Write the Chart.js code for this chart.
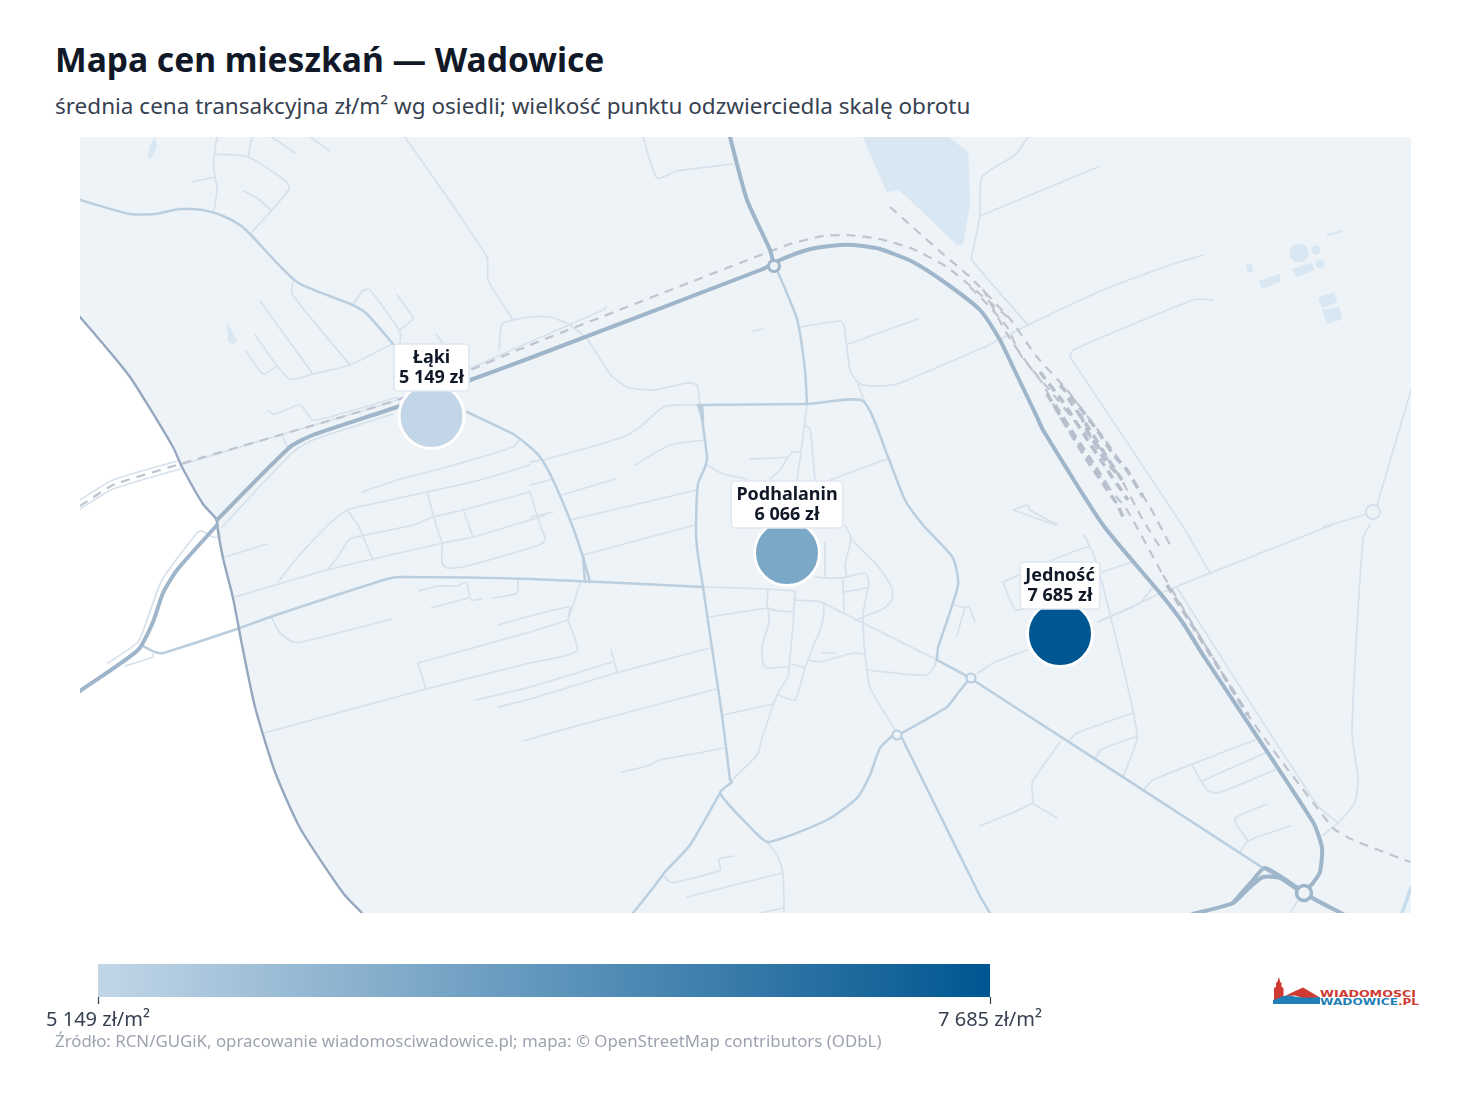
<!DOCTYPE html>
<html lang="pl"><head><meta charset="utf-8">
<script src="https://cdn.jsdelivr.net/npm/chart.js@4"></script>
<style>
html,body{margin:0;padding:0;background:#fff;width:1467px;height:1095px;overflow:hidden}
body{font-family:"Noto Sans",sans-serif;position:relative}
.t{position:absolute;white-space:nowrap;left:55px}
#title{top:37px;font-size:33.6px;line-height:44px;font-weight:700;color:#111827}
#sub{top:90px;font-size:22.5px;line-height:32px;color:#374151}
#src{top:1029px;font-size:16.85px;line-height:24px;color:#9ca3af}
canvas{position:absolute;display:block}
#map{left:80px;top:137px}
#bar{left:28px;top:955px}
#logo{position:absolute;left:1265px;top:970px}
</style></head><body>
<div class="t" id="title">Mapa cen mieszkań — Wadowice</div>
<div class="t" id="sub">średnia cena transakcyjna zł/m² wg osiedli; wielkość punktu odzwierciedla skalę obrotu</div>
<canvas id="map" width="1331" height="776"></canvas>
<canvas id="bar" width="1040" height="90"></canvas>
<div class="t" id="src">Źródło: RCN/GUGiK, opracowanie wiadomosciwadowice.pl; mapa: © OpenStreetMap contributors (ODbL)</div>
<svg id="logo" width="160" height="42" viewBox="1265 970 160 42">
<path d="M1279 977l1.2 5 1.3 1v4l2 1v11l3 3h-13.500l1-3v-11l2-1v-4l1.300-1z" fill="#cf3a33"/>
<path d="M1285 996l8-4 10-4.500 17 10-16 1-9-3z" fill="#cf3a33"/>
<path d="M1273 1000c7-2 11-6 19-4 9 2 17 2 28 1v7h-47z" fill="#1f7fb6"/>
<text x="1320" y="997" font-family="DejaVu Sans" font-weight="700" font-size="8.500" fill="#cf3a33" textLength="96" lengthAdjust="spacingAndGlyphs">WIADOMOSCI</text>
<text x="1320" y="1004.500" font-family="DejaVu Sans" font-weight="700" font-size="8.500" fill="#1f7fb6" textLength="78" lengthAdjust="spacingAndGlyphs">WADOWICE</text>
<text x="1398" y="1004.500" font-family="DejaVu Sans" font-weight="700" font-size="8.500" fill="#cf3a33" textLength="21" lengthAdjust="spacingAndGlyphs">.PL</text>
</svg>
<script>
// ---- values ----
const districts = ["Łąki", "Podhalanin", "Jedność"];
const prices = [5149, 6066, 7685];
const districtX = [431.5, 787, 1060];
const districtY = [416, 553, 634];
const priceRange = [5149, 7685];
const mapX = [80, 1411];
const mapY = [137, 913];

const landOutline = [80,137,1411,137,1411,913,362,913,343,893,300,828,275,772,255,707,242,645,233,598,223,558,217,525,217,520,203,504,182,467,173,447,130,377,93,332,80,317];
const borderLine = [80,317,93,332,130,377,173,447,182,467,203,504,217,520,217,525,223,558,233,598,242,645,255,707,275,772,300,828,343,893,362,913];
const waterAreas = [
 [863,137,887,192,898,190,905,195,957,245,963,244,970,204,968,152,948,137],
 [155,137,157,147,150,159,148,157,150,145],
 [227,322,237,341,232,344,228,341],
 [1292,269,1312,263,1314,270,1297,277],
 [1259,281,1279,274,1281,281,1262,289],
 [1246,265,1251,264,1253,271,1248,273],
 [1318,298,1334,292,1337,302,1322,308],
 [1322,310,1339,307,1342,319,1327,324]
];
const waterLines = [[1328,235,1341,231]];
const riverLines = [[1411,888,1402,913]];
const pondLarge = [1299,253];
const pondSmall = [1316,250,1320,264];

const minorRoads = [
 [217,137,214,157,214,170,217,189,214,211],[252,137,248,157],
 [214,154,248,157,287,182,289,189,272,210,250,234],[192,182,215,177],[244,191,257,198,271,210],
 [272,137,295,153],[310,137,330,151],[405,137,487,257,488,280,513,320],
 [513,320,502,324,499,350],[513,320,530,317,550,317,568,324,587,339,610,374,627,387,653,390,687,383,697,385,700,405],
 [293,282,292,294,350,365],[260,301,313,374],[255,335,289,379,313,374,350,365,392,344],[246,351,263,374,277,366],
 [353,305,363,290,370,290,400,332,400,344],[397,295,413,317,412,320,400,330],[436,334,442,342],
 [268,411,275,414,300,405,313,420,347,412,375,404,397,397],[282,435,288,448],
 [80,500,113,480,177,461],[80,509,113,489,180,469],
 [180,465,280,435,397,400,473,367,530,342,605,309,606,307],
 [222,527,293,452,313,440,393,414],
 [108,663,138,642,148,617,162,580,197,533,202,531,213,537,220,537,218,525],
 [125,666,153,657,153,654],
 [225,557,267,544],[235,597,327,570,443,543,473,537,530,520,545,515],
 [362,492,397,480,447,467,513,447,520,439],
 [278,582,297,558,328,525,347,510,367,505,427,492,480,480,530,465],
 [327,570,337,558,347,542,352,538,413,525,433,517,467,509,530,492],
 [358,525,347,510],[358,525,373,560],[427,492,436,525,442,543,442,563,447,568,463,567,530,548,543,543,545,537,540,525,530,492],
 [463,509,473,537],
 [272,618,280,633,293,642,302,642,392,619],[419,591,438,586,457,586,467,582,468,588,471,600,482,599],
 [431,608,468,598],[493,598,517,593,518,580],[498,625,530,616,567,607,570,607,568,620,580,583],
 [418,663,530,632,568,620],[418,663,426,689],[264,733,426,689,530,663,577,651,568,620],
 [476,700,530,687,612,662],[611,650,617,672],[498,707,530,699,550,693,616,673,710,648],
 [524,741,530,739,580,725,716,689],[622,772,647,766,660,760,693,754,724,748],[583,555,695,525],[723,715,773,704],
 [635,465,670,445,705,440],[530,462,547,459,623,437,640,427,663,407,680,405,700,405],
 [530,485,553,479],[562,495,615,479],[570,520,697,490],[530,517,553,512],
 [807,404,803,437,797,480],[643,137,657,178,677,171,733,164],
 [800,327,840,321,844,325,850,370,860,384,880,386,897,384,980,349,985,347,1028,325,1103,290,1170,265,1203,255],
 [848,344,918,319],[858,384,865,402],[753,331,763,329],
 [707,465,723,474,747,479],[750,459,788,457,792,452,800,452],[788,457,780,470,770,479],
 [805,425,810,429,815,480],[830,480,887,459],
 [850,538,877,565,892,588,892,600,883,609,855,620],[845,525,851,538,845,565,846,577,825,578,815,577],
 [825,542,825,577],[843,577,844,613],[846,577,865,573,868,578,868,587,845,592],
 [868,587,863,615,864,642,867,670,870,688,895,730],[768,590,768,608,793,611,795,591],[703,587,768,589,795,591],
 [709,617,760,609,768,608],
 [768,608,769,622,762,647,763,663,767,668,785,667,789,669,788,677,778,693,762,738,757,755,730,782],
 [795,591,793,625,789,668],[795,600,823,603,822,625,815,642,805,668,795,700,778,695],[792,664,805,668],
 [808,660,820,662,853,653,864,654],[822,653,836,653],[867,670,927,675,935,665,937,652],
 [823,603,937,660],[957,636,965,608,969,606,975,622],[955,605,965,608],
 [768,843,777,855,783,873,784,913],[663,875,670,882,677,882,720,870,719,859,734,856],[687,897,782,873],[760,913,783,908],
 [1028,137,1015,155,982,177,980,215,973,250,972,260,1028,325],[1070,357,1182,525,1210,573],
 [1070,357,1073,350,1190,301,1200,299,1213,300],[980,216,1098,167],
 [1411,390,1377,505],[1323,527,1367,514],[1332,525,1173,588,1098,622],[1027,650,993,663,978,673],
 [1370,525,1363,538,1352,732,1358,778,1355,802,1338,823,1323,835],[1177,588,1317,805,1337,822,1338,823],
 [1003,582,1088,547,1098,568,1128,688,1137,738,1123,777],[1084,535,1090,547],[1003,582,1015,610,1027,607],
 [1102,572,1132,562],[1098,622,1140,603,1152,588],
 [1060,742,1032,783,1032,803,980,826],[1032,803,1057,818],[1068,742,1077,733,1133,713],[1095,759,1102,749,1136,737],
 [1143,791,1153,780,1255,740],[1193,766,1207,790,1218,793,1275,770],[1202,781,1265,753],
 [1240,852,1248,841,1290,826],[1248,841,1237,825,1235,818,1267,804],[1290,913,1303,893],
 [1013,510,1028,505,1030,510,1057,525,1013,510]
];
const secondaryRoads = [
 [80,200,130,214,155,214,180,209,203,210,223,216,240,225,250,234,297,282,353,305,367,314,393,344],
 [467,412,513,434,530,447,540,457,553,480,572,525,583,557,590,582],[583,557,585,582],
 [143,646,155,652,163,653,237,629,273,616,387,579,400,577,530,579,703,587],
 [700,405,707,457,705,467,698,484,696,525,697,548,703,587,712,648,722,715,730,780],[698,405,703,420,702,405],
 [698,405,807,404,863,401,888,457,905,500,923,525,953,558,958,585,938,648,937,660],
 [777,270,797,319,805,370,807,404],
 [937,660,970,678,1263,868,1298,890],
 [902,733,947,707,958,693,967,682],
 [893,735,880,748,870,775,857,798,827,820,768,842,750,827,720,793,732,782],
 [720,793,690,845,665,872,653,888,633,913],[902,738,980,896,990,913]
];
const majorRoads = [
 [730,137,747,200,770,250,774,266],
 [217,520,290,447,313,435,397,407,473,379,530,358,763,269],
 [763,269,780,260,807,250,830,246,853,245,880,249,913,262,947,284,980,310,1000,340,1013,367,1037,417,1043,430,1103,525,1160,593,1183,623,1203,655,1313,822,1322,848,1320,872,1313,883,1305,893,1343,914],
 [217,525,177,570,163,593,153,622,138,650,80,691],
 [1298,890,1280,878,1263,877,1250,887,1233,903,1193,914],
 [1298,888,1265,868,1253,880,1233,903]
];
const railLines = [
 [80,506,113,485,177,465,280,435,397,400,530,345,763,254,790,244,823,236,847,235,880,239,913,249,947,267,980,294,1010,319],
 [890,207,943,254,970,277,1010,319,1037,357,1067,390,1103,437,1133,480,1150,507,1170,545],
 [983,289,1007,334,1030,367,1053,394,1077,424,1097,444,1120,477,1143,520,1163,552],
 [970,287,990,307,1007,327,1020,354,1043,384,1058,414,1080,447,1100,477,1127,510,1163,575],
 [1163,575,1250,718,1333,828,1353,840,1410,862]
];
const yardLines = [
 [1047,394,1067,427,1087,460,1117,504,1123,517],
 [1060,385,1077,404,1097,430,1113,454,1127,470,1143,497],
 [1080,414,1087,430,1103,457,1117,474],
 [1040,372,1063,402,1085,436,1106,468,1128,500],
 [1068,398,1090,430,1110,462,1122,480],
 [1055,405,1075,436,1095,466,1110,490],
 [1167,585,1248,715]
];
const bigJunctions = [774,266];
const hubJunctions = [1304,893];
const midJunctions = [971,678,897,735];
const lightJunctions = [1373,512];

// ---- styling and assembly ----
const LOW = [194,214,231], HIGH = [0,86,145];
const mix = p => {
  const t = (p - priceRange[0]) / (priceRange[1] - priceRange[0]);
  return 'rgb(' + LOW.map((c,i) => Math.round(c + (HIGH[i]-c)*t)).join(',') + ')';
};
const group = v => String(v).replace(/\B(?=(\d{3})+$)/g,' ');
const pts = a => { const o=[]; for(let i=0;i<a.length;i+=2) o.push({x:a[i],y:a[i+1]}); return o; };
const layers = [];
const line = (a, s) => layers.push(Object.assign({data:pts(a),showLine:true,pointRadius:0,pointHoverRadius:0,fill:false,borderCapStyle:'round',borderJoinStyle:'round',tension:0.2},s));
const dots = (a, s) => layers.push(Object.assign({data:pts(a),showLine:false,pointStyle:'circle'},s));

line(landOutline,{fill:'shape',backgroundColor:'#eef3f8',borderWidth:0,borderColor:'#eef3f8',tension:0});
waterAreas.forEach(a=>line(a,{fill:'shape',backgroundColor:'#d9e7f2',borderColor:'#d9e7f2',borderWidth:0.5,tension:0}));
waterLines.forEach(a=>line(a,{borderColor:'#d9e7f2',borderWidth:2.5}));
riverLines.forEach(a=>line(a,{borderColor:'#c6dded',borderWidth:3.5}));
dots(pondLarge,{pointRadius:9.5,backgroundColor:'#d9e7f2',borderWidth:0});
dots(pondSmall,{pointRadius:4.5,backgroundColor:'#d9e7f2',borderWidth:0});
minorRoads.forEach(a=>line(a,{borderColor:'#d7e1ec',borderWidth:1.7}));
secondaryRoads.forEach(a=>line(a,{borderColor:'#bbcede',borderWidth:2.5}));
railLines.forEach(a=>line(a,{borderColor:'#bfc4d0',borderWidth:2.2,borderDash:[9,7],borderCapStyle:'butt',tension:0.15}));
yardLines.forEach(a=>line(a,{borderColor:'#b9bfcc',borderWidth:3.5,borderDash:[9,6],borderCapStyle:'butt',tension:0.1}));
line(borderLine,{borderColor:'#96a8bf',borderWidth:2.4});
majorRoads.forEach(a=>line(a,{borderColor:'#9eb5ca',borderWidth:4}));
dots(bigJunctions,{pointRadius:5.5,backgroundColor:'#eef3f8',borderColor:'#9eb5ca',borderWidth:3});
dots(hubJunctions,{pointRadius:7.5,backgroundColor:'#eef3f8',borderColor:'#9eb5ca',borderWidth:3.5});
dots(midJunctions,{pointRadius:4.5,backgroundColor:'#eef3f8',borderColor:'#bbcede',borderWidth:2.2});
dots(lightJunctions,{pointRadius:7,backgroundColor:'#eef3f8',borderColor:'#d7e1ec',borderWidth:2});
layers.push({data:districtX.map((x,i)=>({x,y:districtY[i]})),showLine:false,pointStyle:'circle',
  pointRadius:32.5,borderWidth:3,borderColor:'#fff',backgroundColor:prices.map(mix)});
layers.forEach((d,i)=>{d.order=layers.length-i;});

const FONT = '"Noto Sans", sans-serif';
const labelPlugin = {id:'districtLabels',afterDatasetsDraw(chart){
  const {ctx,scales:{x,y}}=chart;
  ctx.save();
  districts.forEach((name,i)=>{
    const px=x.getPixelForValue(districtX[i]), py=y.getPixelForValue(districtY[i]);
    const l2=group(prices[i])+' zł';
    ctx.font='700 18px '+FONT;
    const w=Math.max(ctx.measureText(name).width,ctx.measureText(l2).width)+10;
    ctx.beginPath();ctx.roundRect(px-w/2,py-72,w,47,4);
    ctx.fillStyle='#fff';ctx.fill();ctx.strokeStyle='#e0e7f0';ctx.lineWidth=1.6;ctx.stroke();
    ctx.fillStyle='#111827';ctx.textAlign='center';ctx.textBaseline='middle';
    ctx.fillText(name,px,py-58.500);ctx.fillText(l2,px,py-38);
  });
  ctx.restore();
}};
new Chart(document.getElementById('map'),{type:'scatter',data:{datasets:layers},plugins:[labelPlugin],options:{
  responsive:false,animation:false,devicePixelRatio:1,
  layout:{padding:0,autoPadding:false},
  plugins:{legend:{display:false},tooltip:{enabled:false}},
  events:[],
  scales:{x:{type:'linear',display:false,min:mapX[0],max:mapX[1]},y:{type:'linear',display:false,reverse:true,min:mapY[0],max:mapY[1]}}
}});

const tickText = v => group(v) + ' zł/m²';
new Chart(document.getElementById('bar'),{type:'bar',data:{labels:['cena'],datasets:[{
  data:[priceRange],barPercentage:1,categoryPercentage:1,borderWidth:0,borderSkipped:false,
  backgroundColor(c){const s=c.chart.scales.x;
    if(!s||!isFinite(s.left)||!isFinite(s.right))return '#7ca8c8';
    const g=c.chart.ctx.createLinearGradient(s.left,0,s.right,0);
    g.addColorStop(0,'rgb('+LOW+')');g.addColorStop(1,'rgb('+HIGH+')');return g;}
}]},options:{
  indexAxis:'y',responsive:false,animation:false,devicePixelRatio:1,events:[],
  layout:{padding:{left:70,right:78,top:9,bottom:0},autoPadding:false},
  plugins:{legend:{display:false},tooltip:{enabled:false}},
  scales:{
    y:{display:false},
    x:{type:'linear',min:priceRange[0],max:priceRange[1],
      afterBuildTicks(s){s.ticks=priceRange.map(value=>({value}));},
      afterFit(s){s.height=48;},
      border:{display:false},
      grid:{drawOnChartArea:false,drawTicks:true,tickLength:7,color:'#374151',tickWidth:1.2},
      ticks:{autoSkip:false,maxRotation:0,padding:4,color:'#374151',font:{family:'"Noto Sans"',size:20},callback:tickText}
    }
  }
}});
</script>
</body></html>
